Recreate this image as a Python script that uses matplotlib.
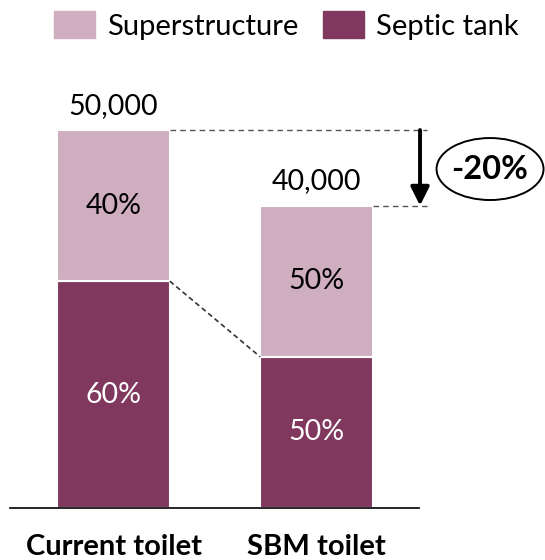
import matplotlib.pyplot as plt
from matplotlib.patches import Patch, Ellipse
import numpy as np

plt.rcParams['font.family'] = ['Lato', 'DejaVu Sans']

# cost of one toilet, split into its two parts
categories = ['Current toilet', 'SBM toilet']
totals = np.array([50000, 40000])
septic_share = np.array([0.60, 0.50])
super_share = np.array([0.40, 0.50])
change_label = '-20%'

col_super = '#CFAEBF'
col_septic = '#80385E'

septic = totals * septic_share
superstr = totals * super_share

fig = plt.figure(figsize=(5.45, 5.6), dpi=100)
ax = fig.add_axes([10/545, 52/560, 409/545, 508/560])

x = np.arange(len(categories))
w = 0.555

ax.bar(x, septic, w, color=col_septic, edgecolor='white', linewidth=1.5)
ax.bar(x, superstr, w, bottom=septic, color=col_super, edgecolor='white', linewidth=1.5)

# shares inside the segments
for i in range(len(x)):
    ax.text(x[i], septic[i]/2, '{:.0f}%'.format(septic_share[i]*100),
            ha='center', va='center', color='white', fontsize=20.5)
    ax.text(x[i], septic[i] + superstr[i]/2, '{:.0f}%'.format(super_share[i]*100),
            ha='center', va='center', color='black', fontsize=20.5)
    ax.annotate('{:,}'.format(totals[i]), (x[i], totals[i]), xytext=(0, 17.5),
                textcoords='offset points', ha='center', va='center', fontsize=20.5)

# guide lines
ax.plot([x[0] + w/2, 1.545], [totals[0], totals[0]], color='#555555', lw=1,
        ls=(0, (4, 3)), clip_on=False)
ax.plot([x[1] + w/2, 1.545], [totals[1], totals[1]], color='#555555', lw=1,
        ls=(0, (4, 3)), clip_on=False)
ax.plot([x[0] + w/2, x[1] - w/2], [septic[0], septic[1]], color='#333333', lw=1.2,
        ls=(0, (3, 2)))

# drop arrow with the change
ax.annotate('', xy=(1.51, totals[1]), xytext=(1.51, totals[0]),
            arrowprops=dict(arrowstyle='-|>', lw=2.8, color='black',
                            mutation_scale=28, shrinkA=0, shrinkB=0),
            annotation_clip=False)
ell = Ellipse((1.855, 44840), 0.527, 8200, facecolor='white', edgecolor='black',
              lw=1.4, clip_on=False)
ax.add_patch(ell)
ax.text(1.855, 44840, change_label, ha='center', va='center', fontsize=23.5,
        fontweight='bold', clip_on=False)

ax.set_xlim(-0.51, 1.505)
ax.set_ylim(0, 67200)
ax.set_xticks(x)
ax.set_xticklabels(categories, fontsize=21, fontweight='bold')
ax.tick_params(axis='x', length=0, pad=19)
ax.set_yticks([])
for s in ['top', 'left', 'right']:
    ax.spines[s].set_visible(False)
ax.spines['bottom'].set_linewidth(1.2)

handles = [Patch(color=col_super), Patch(color=col_septic)]
fig.legend(handles, ['Superstructure', 'Septic tank'], loc='upper left',
           bbox_to_anchor=(54/545, 1 - 11/560), ncol=2, frameon=False, fontsize=21,
           handlelength=1.41, handleheight=1.07, handletextpad=0.41,
           columnspacing=0.83, borderpad=0, borderaxespad=0)

fig.savefig('out.png', dpi=100)
